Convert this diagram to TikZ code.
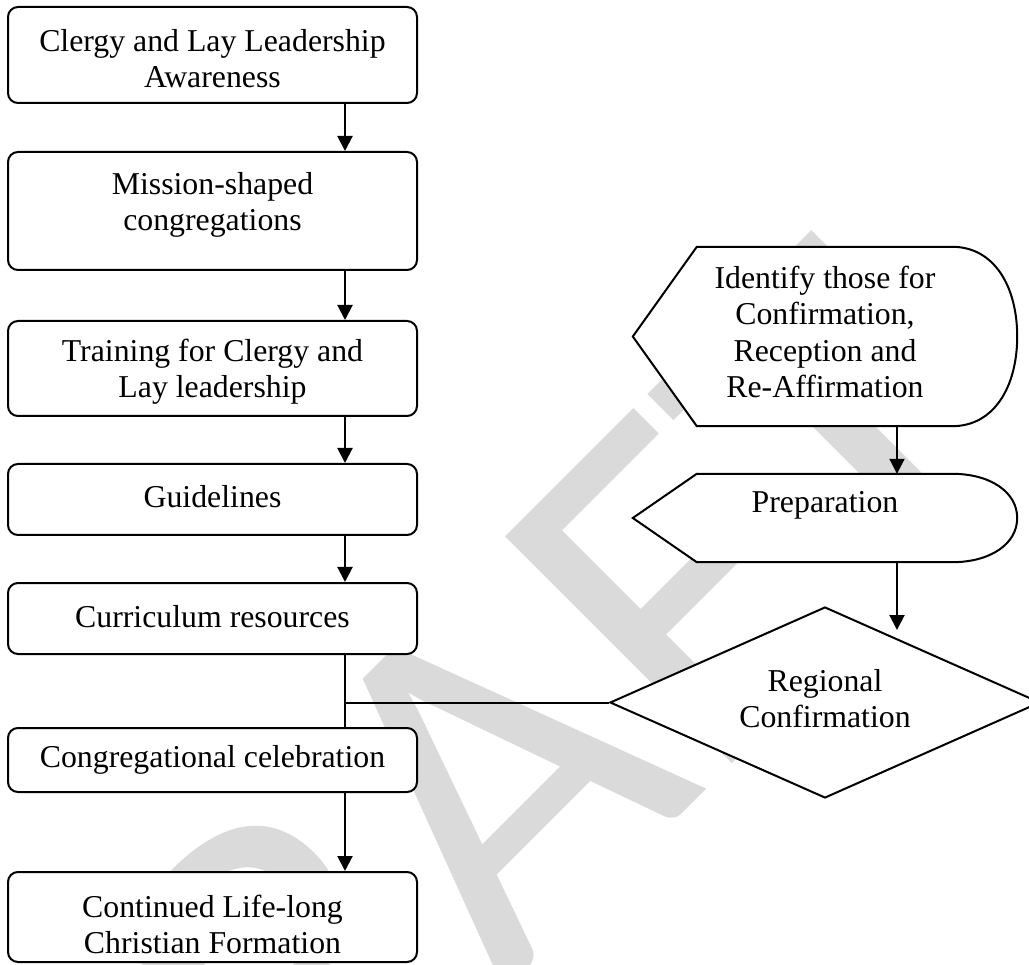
\documentclass[tikz,border=0pt]{standalone}
\usepackage{fontspec}
\setmainfont{Liberation Serif}
\newfontfamily\wmfont{Carlito}
\usetikzlibrary{arrows.meta,shapes.geometric,calc}
\definecolor{wmgray}{RGB}{218,218,218}
\begin{document}
\begin{tikzpicture}[x=1pt,y=-1pt,
  txt/.style={font=\fontsize{31.8}{36.5}\selectfont, align=center, inner sep=0pt},
  box/.style={draw, line width=2pt, fill=white, rounded corners=10pt, minimum width=409pt, inner sep=0pt},
  shapeline/.style={draw, line width=2pt, fill=white},
  frame/.style={inner sep=0pt},
  arr/.style={line width=2pt, -{Triangle[width=15pt,length=15pt]}},
  ln/.style={line width=2pt},
]
\useasboundingbox (0,0) rectangle (1029,965);
\clip (0,0) rectangle (1029,965);

% watermark
\node[rotate=45, anchor=base west, text=wmgray, inner sep=0pt,
      font=\wmfont\fontsize{500}{500}\selectfont] (wm) at (94,1402) {DRAFT};

% helper x positions
\coordinate (lx) at (345,0);
\coordinate (ax) at (897,0);

% left column boxes
\node[box, minimum height=96pt]  (b1) at (212.5,55)  {};
\node[box, minimum height=118pt] (b2) at (212.5,211) {};
\node[box, minimum height=95pt]  (b3) at (212.5,368.5) {};
\node[box, minimum height=71pt]  (b4) at (212.5,499.5) {};
\node[box, minimum height=71pt]  (b5) at (212.5,618.5) {};
\node[box, minimum height=64pt]  (b6) at (212.5,760) {};
\node[box, minimum height=90pt]  (b7) at (212.5,917) {};

\node[txt] (t1) at (212.5,58.5)  {Clergy and Lay Leadership\\Awareness};
\node[txt] (t2) at (212.5,205)   {Mission-shaped\\congregations};
\node[txt] (t3) at (212.5,371.5) {Training for Clergy and\\Lay leadership};
\node[txt] (t4) at (212.5,497)   {Guidelines};
\node[txt] (t5) at (212.5,617)   {Curriculum resources};
\node[txt] (t6) at (212.5,760)   {Congregational celebration};
\node[txt] (t7) at (212.5,924.5) {Continued Life-long\\Christian Formation};

% right column
\node[frame, minimum width=384pt, minimum height=179pt] (id) at (825,336.5) {};
\path[shapeline] (id.west) -- ($(id.north west)+(64,0)$) -- ($(id.north east)+(-65,0)$)
  .. controls +(42,0) and +(0,-50) .. (id.east)
  .. controls +(0,50) and +(42,0) .. ($(id.south east)+(-65,0)$)
  -- ($(id.south west)+(64,0)$) -- cycle;
\node[txt] (tid) at (825,332) {Identify those for\\Confirmation,\\Reception and\\Re-Affirmation};

\node[frame, minimum width=384pt, minimum height=88pt] (prep) at (825,518) {};
\path[shapeline] (prep.west) -- ($(prep.north west)+(64,0)$) -- ($(prep.north east)+(-65,0)$)
  .. controls +(38,0) and +(0,-26) .. (prep.east)
  .. controls +(0,26) and +(38,0) .. ($(prep.south east)+(-65,0)$)
  -- ($(prep.south west)+(64,0)$) -- cycle;
\node[txt] (tprep) at (825,505) {Preparation};

\node[diamond, draw, line width=2pt, fill=white, inner sep=0pt,
      minimum width=430pt, minimum height=191pt] (d) at (825,702.5) {};
\node[txt] (td) at (825,698.5) {Regional\\Confirmation};
\coordinate (dend) at (897,630);

% connectors
\draw[arr] (b1.south -| lx) -- (b2.north -| lx);
\draw[arr] (b2.south -| lx) -- (b3.north -| lx);
\draw[arr] (b3.south -| lx) -- (b4.north -| lx);
\draw[arr] (b4.south -| lx) -- (b5.north -| lx);
\draw[ln]  (b5.south -| lx) -- (b6.north -| lx);
\draw[arr] (b6.south -| lx) -- (b7.north -| lx);
\draw[ln]  (d.west) -- (d.west -| lx);
\draw[arr] (id.south -| ax) -- (prep.north -| ax);
\draw[arr] (prep.south -| ax) -- (dend);
\end{tikzpicture}
\end{document}
